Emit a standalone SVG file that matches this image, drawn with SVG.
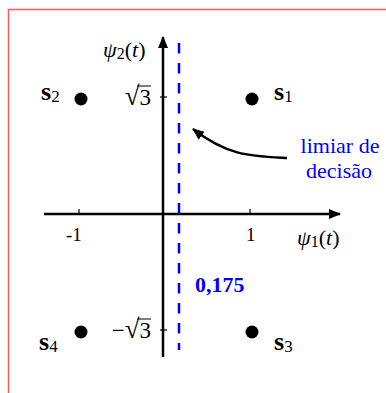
<svg xmlns="http://www.w3.org/2000/svg" width="386" height="393" viewBox="0 0 386 393">
<defs>
<style>
text{font-family:"Liberation Serif","Times New Roman",serif;font-size:22px;fill:#000}
.b{fill:#0000ff}
.sub{font-size:16px}
.ax{stroke:#000;stroke-width:2.5;fill:none}
.tk{stroke:#000;stroke-width:1.2}
.bold{font-weight:bold}
.s{font-weight:bold;font-size:26px}
.ss{font-weight:normal;font-size:17px}
.rt{font-size:23px}
.rad{font-size:27px}
.num{font-size:19px}
.ol{stroke:#000;stroke-width:1}
</style>
<marker id="ah" viewBox="0 0 12 10" refX="11" refY="5" markerWidth="12" markerHeight="10" markerUnits="userSpaceOnUse" orient="auto">
<path d="M0,0 L12,5 L0,10 Z" fill="#000"/>
</marker>
</defs>
<rect x="8.5" y="9.5" width="400" height="400" fill="none" stroke="#ff5a5a" stroke-width="1.5"/>
<g id="connectors">
<line class="ax" x1="163" y1="357" x2="163" y2="37" marker-end="url(#ah)"/>
<line class="ax" x1="44" y1="214" x2="340" y2="214" marker-end="url(#ah)"/>
<line x1="179" y1="43" x2="179" y2="350" stroke="#0000ff" stroke-width="2.5" stroke-dasharray="10.5 9.5"/>
<line class="tk" x1="160" y1="97" x2="167" y2="97"/>
<line class="tk" x1="160" y1="330" x2="167" y2="330"/>
<line class="tk" x1="79" y1="209" x2="79" y2="214"/>
<line class="tk" x1="250" y1="209" x2="250" y2="214"/>
<path class="ax" d="M287,158 C250,156 228,156 193,129" marker-end="url(#ah)"/>
</g>
<g id="s2"><circle cx="81" cy="99" r="6.5"/><text x="41" y="100" class="s">s<tspan class="ss" dy="2">2</tspan></text></g>
<g id="s1"><circle cx="252" cy="99" r="6.5"/><text x="274" y="100" class="s">s<tspan class="ss" dy="2">1</tspan></text></g>
<g id="s4"><circle cx="81" cy="332" r="6.5"/><text x="39" y="350" class="s">s<tspan class="ss" dy="2">4</tspan></text></g>
<g id="s3"><circle cx="252" cy="332" r="6.5"/><text x="274" y="350" class="s">s<tspan class="ss" dy="2">3</tspan></text></g>
<g id="labels">
<text x="103" y="57" font-size="24"><tspan font-style="italic">ψ</tspan><tspan class="sub" dy="2">2</tspan><tspan dy="-2">(</tspan><tspan font-style="italic">t</tspan>)</text>
<text x="297" y="245" font-size="23"><tspan font-style="italic">ψ</tspan><tspan class="sub" dy="2">1</tspan><tspan dy="-2">(</tspan><tspan font-style="italic">t</tspan>)</text>
<text x="151" y="105" class="rt" text-anchor="end"><tspan class="rad">√</tspan>3</text>
<line class="ol" x1="137" y1="86" x2="151" y2="86"/>
<text x="151" y="338" class="rt" text-anchor="end">−<tspan class="rad">√</tspan>3</text>
<line class="ol" x1="137" y1="319" x2="151" y2="319"/>
<text x="66" y="241" class="num">-1</text>
<text x="246" y="241" class="num">1</text>
<text x="340" y="153" class="b" text-anchor="middle">limiar de</text>
<text x="339" y="178" class="b" text-anchor="middle">decisão</text>
<text x="195" y="292" class="b bold">0,175</text>
</g>
</svg>
